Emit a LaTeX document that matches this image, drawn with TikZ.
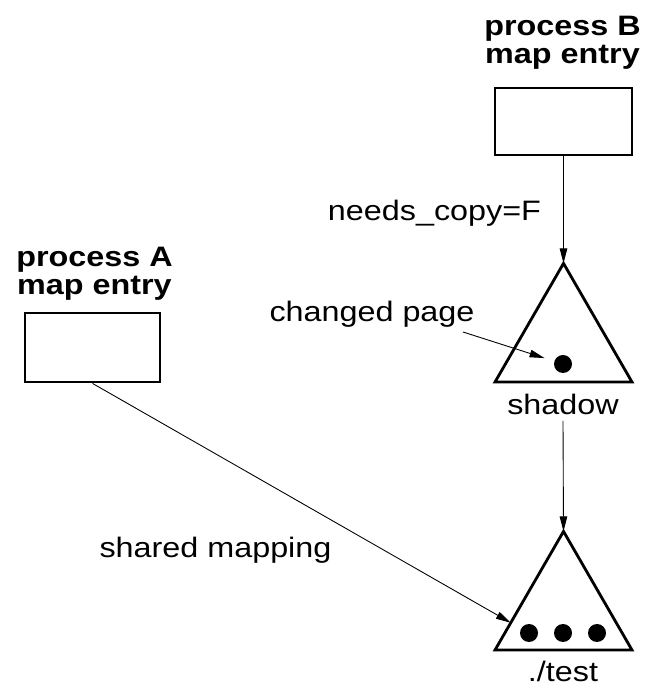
\documentclass[tikz,border=0pt]{standalone}
\usepackage{fontspec}
\setmainfont[FakeStretch=1.15]{Liberation Sans}
\usetikzlibrary{arrows.meta,shapes.geometric,calc}

\begin{document}
\begin{tikzpicture}[>={Triangle[length=0.3cm,width=0.15cm]},
  font=\fontsize{16}{16}\selectfont,
  entry/.style={draw,line width=1.6pt,minimum width=2.74cm,minimum height=1.34cm,inner sep=0pt},
  obj/.style={draw,line width=1.6pt,regular polygon,regular polygon sides=3,minimum size=3.164cm,inner sep=0pt,outer sep=0pt},
  pg/.style={circle,fill,minimum size=0.36cm,inner sep=0pt},
  title/.style={font=\fontsize{16}{16}\selectfont\bfseries,align=center,anchor=base},
  link/.style={->,line width=0.5pt}]
\useasboundingbox(0,0)rectangle(12.88,13.72);
% map entries
\node[entry](boxB)at(11.27,11.29){};
\node[entry,minimum width=2.70cm,minimum height=1.38cm](boxA)at(1.85,6.77){};
\node[title](labB)at(11.25,12.44){process B\\map entry};
\node[title](labA)at(1.89,7.82){process A\\map entry};
% objects
\node[obj](shadow)at(11.27,6.87){};
\node[obj](test)at(11.27,1.51){};
\node[pg](pdot)at(11.26,6.44){};
\node[pg](t1)at(10.58,1.06){};
\node[pg](t2)at(11.26,1.06){};
\node[pg](t3)at(11.94,1.06){};
\node[anchor=base](shadowlab)at(11.26,5.43){shadow};
\node[anchor=base](testlab)at(11.26,0.09){./test};
% labels
\node[anchor=base](needs)at(8.69,9.30){needs\_copy=F};
\node[anchor=base](chg)at(7.44,7.28){changed page};
\node[anchor=base](shared)at(4.31,2.56){shared mapping};
% connectors
\draw[link](boxB)--(shadow.corner 1);
\draw[link](shadowlab.south)--(test.corner 1);
\draw[link](boxA.south)--($(test.corner 2)!0.23!(test.corner 1)$);
\coordinate(chgtail)at(9.26,7.08);
\draw[link,shorten >=0.2cm](chgtail)--(pdot);
\end{tikzpicture}
\end{document}
